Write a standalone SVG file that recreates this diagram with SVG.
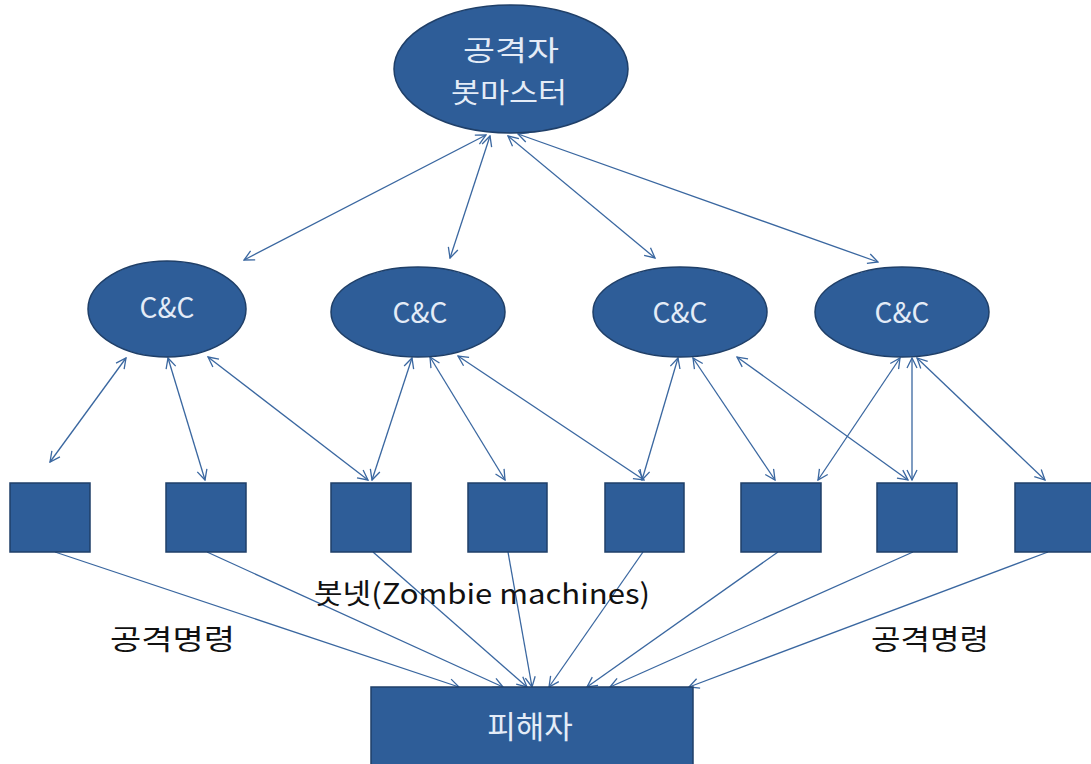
<svg xmlns="http://www.w3.org/2000/svg" width="1091" height="764" viewBox="0 0 1091 764">
  <style>
    .shape { fill: #2E5D98; stroke: #1F3F68; stroke-width: 1.5; }
    .label { fill: #E4ECF7; font-family: "Noto Sans CJK KR", "Liberation Sans", sans-serif; text-anchor: middle; }
    .note { fill: #111111; font-family: "Noto Sans CJK KR", "Liberation Sans", sans-serif; }
    .link { stroke: #3A67A0; stroke-width: 1.3; fill: none; }
  </style>
  <defs>
    <marker id="arrow" viewBox="0 0 12 12" refX="11" refY="6" markerWidth="12" markerHeight="12" markerUnits="userSpaceOnUse" orient="auto-start-reverse">
      <path d="M1,1 L11,6 L1,11" fill="none" stroke="#3A67A0" stroke-width="1.3"/>
    </marker>
  </defs>

  <!-- connectors -->
  <g id="connectors">
    <!-- botmaster to C&C servers -->
    <line class="link" x1="486" y1="135" x2="244" y2="260" marker-start="url(#arrow)" marker-end="url(#arrow)"/>
    <line class="link" x1="490" y1="136" x2="450" y2="258" marker-start="url(#arrow)" marker-end="url(#arrow)"/>
    <line class="link" x1="508" y1="136" x2="655" y2="258" marker-start="url(#arrow)" marker-end="url(#arrow)"/>
    <line class="link" x1="518" y1="134" x2="878" y2="262" marker-start="url(#arrow)" marker-end="url(#arrow)"/>
    <!-- C&C 1 to bots -->
    <line class="link" x1="126" y1="358" x2="50" y2="462" marker-start="url(#arrow)" marker-end="url(#arrow)"/>
    <line class="link" x1="168" y1="358" x2="205" y2="480" marker-start="url(#arrow)" marker-end="url(#arrow)"/>
    <line class="link" x1="208" y1="357" x2="368" y2="480" marker-start="url(#arrow)" marker-end="url(#arrow)"/>
    <!-- C&C 2 to bots -->
    <line class="link" x1="412" y1="358" x2="372" y2="480" marker-start="url(#arrow)" marker-end="url(#arrow)"/>
    <line class="link" x1="430" y1="357" x2="505" y2="480" marker-start="url(#arrow)" marker-end="url(#arrow)"/>
    <line class="link" x1="458" y1="356" x2="644" y2="480" marker-start="url(#arrow)" marker-end="url(#arrow)"/>
    <!-- C&C 3 to bots -->
    <line class="link" x1="678" y1="358" x2="642" y2="480" marker-start="url(#arrow)" marker-end="url(#arrow)"/>
    <line class="link" x1="693" y1="358" x2="775" y2="480" marker-start="url(#arrow)" marker-end="url(#arrow)"/>
    <line class="link" x1="737" y1="357" x2="908" y2="480" marker-start="url(#arrow)" marker-end="url(#arrow)"/>
    <!-- C&C 4 to bots -->
    <line class="link" x1="900" y1="358" x2="818" y2="480" marker-start="url(#arrow)" marker-end="url(#arrow)"/>
    <line class="link" x1="912" y1="358" x2="912" y2="480" marker-start="url(#arrow)" marker-end="url(#arrow)"/>
    <line class="link" x1="917" y1="358" x2="1045" y2="480" marker-start="url(#arrow)" marker-end="url(#arrow)"/>
    <!-- bots to victim -->
    <line class="link" x1="55" y1="552" x2="459" y2="687" marker-end="url(#arrow)"/>
    <line class="link" x1="207" y1="552" x2="503" y2="687" marker-end="url(#arrow)"/>
    <line class="link" x1="373" y1="552" x2="527" y2="687" marker-end="url(#arrow)"/>
    <line class="link" x1="508" y1="552" x2="532" y2="687" marker-end="url(#arrow)"/>
    <line class="link" x1="643" y1="552" x2="549" y2="687" marker-end="url(#arrow)"/>
    <line class="link" x1="778" y1="552" x2="587" y2="687" marker-end="url(#arrow)"/>
    <line class="link" x1="913" y1="552" x2="610" y2="687" marker-end="url(#arrow)"/>
    <line class="link" x1="1048" y1="552" x2="689" y2="687" marker-end="url(#arrow)"/>
  </g>

  <!-- botmaster -->
  <g id="botmaster">
    <ellipse class="shape" cx="511" cy="69" rx="117" ry="64"/>
    <text class="label" x="511" y="61" font-size="28" textLength="96" lengthAdjust="spacingAndGlyphs">공격자</text>
    <text class="label" x="509" y="103" font-size="28" textLength="116" lengthAdjust="spacingAndGlyphs">봇마스터</text>
  </g>

  <!-- command and control servers -->
  <g id="cc1">
    <ellipse class="shape" cx="167" cy="309" rx="79" ry="48"/>
    <text class="label" x="167" y="318" font-size="28">C&amp;C</text>
  </g>
  <g id="cc2">
    <ellipse class="shape" cx="418" cy="312" rx="87" ry="45"/>
    <text class="label" x="420" y="323" font-size="28">C&amp;C</text>
  </g>
  <g id="cc3">
    <ellipse class="shape" cx="680" cy="312" rx="87" ry="45"/>
    <text class="label" x="680" y="323" font-size="28">C&amp;C</text>
  </g>
  <g id="cc4">
    <ellipse class="shape" cx="902" cy="312" rx="87" ry="45"/>
    <text class="label" x="902" y="323" font-size="28">C&amp;C</text>
  </g>

  <!-- zombie machines -->
  <g id="bot1"><rect class="shape" x="10" y="483" width="80" height="69"/></g>
  <g id="bot2"><rect class="shape" x="166" y="483" width="80" height="69"/></g>
  <g id="bot3"><rect class="shape" x="331" y="483" width="80" height="69"/></g>
  <g id="bot4"><rect class="shape" x="468" y="483" width="79" height="69"/></g>
  <g id="bot5"><rect class="shape" x="605" y="483" width="79" height="69"/></g>
  <g id="bot6"><rect class="shape" x="741" y="483" width="80" height="69"/></g>
  <g id="bot7"><rect class="shape" x="877" y="483" width="80" height="69"/></g>
  <g id="bot8"><rect class="shape" x="1015" y="483" width="80" height="69"/></g>

  <!-- victim -->
  <g id="victim">
    <rect class="shape" x="371" y="687" width="322" height="90"/>
    <text class="label" x="530" y="738" font-size="31">피해자</text>
  </g>

  <!-- free labels -->
  <g id="labels">
    <text class="note" x="314" y="604" font-size="28" textLength="336" lengthAdjust="spacingAndGlyphs">봇넷(Zombie machines)</text>
    <text class="note" x="110" y="650" font-size="28" textLength="125" lengthAdjust="spacingAndGlyphs">공격명령</text>
    <text class="note" x="871" y="650" font-size="28" textLength="118" lengthAdjust="spacingAndGlyphs">공격명령</text>
  </g>
</svg>
